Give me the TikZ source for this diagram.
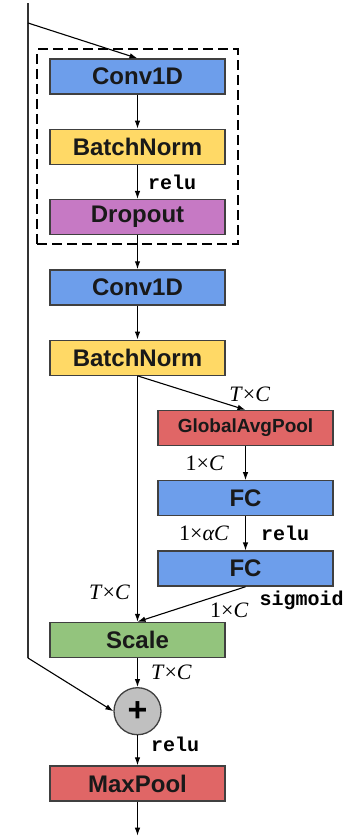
\documentclass[tikz,border=0pt]{standalone}
\usepackage{fontspec}
\setmainfont{Liberation Serif}
\setsansfont{Liberation Sans}
\setmonofont{Liberation Mono}
\usetikzlibrary{positioning,arrows.meta,fit}

\definecolor{convblue}{HTML}{6D9EEB}
\definecolor{bnyellow}{HTML}{FFD966}
\definecolor{dropmauve}{HTML}{C679C4}
\definecolor{poolred}{HTML}{E06666}
\definecolor{scalegreen}{HTML}{93C47D}
\definecolor{sumgray}{HTML}{C0C0C0}
\definecolor{edgegray}{HTML}{404040}

\begin{document}
\begin{tikzpicture}[>={Latex[length=8bp,width=5.5bp]},x=1bp,y=-1bp,node distance=34bp,line width=1.1bp]
\tikzstyle{blk}=[rectangle,draw=edgegray,line width=1.3bp,minimum width=175bp,minimum height=35bp,inner sep=0pt,text=black!90,font=\sffamily\bfseries\fontsize{24bp}{26bp}\selectfont]
\tikzstyle{dim}=[font=\rmfamily\fontsize{22bp}{24bp}\selectfont,inner sep=1bp]
\tikzstyle{act}=[font=\ttfamily\bfseries\fontsize{20bp}{22bp}\selectfont,inner sep=1bp]
\tikzstyle{sum}=[circle,draw=edgegray,line width=1.3bp,fill=sumgray,minimum size=47bp,inner sep=0pt,font=\sffamily\bfseries\fontsize{34bp}{34bp}\selectfont]

\useasboundingbox (0,0) rectangle (354,838);

% Main column
\node[blk,fill=convblue] (CV1) at (137.5,76.5) {Conv1D};
\node[blk,fill=bnyellow,below=of CV1] (BN1) {BatchNorm};
\node[blk,fill=dropmauve,below=of BN1] (DO) {Dropout};
\node[blk,fill=convblue,below=of DO] (CV2) {Conv1D};
\node[blk,fill=bnyellow,below=of CV2] (BN2) {BatchNorm};

% Squeeze-excitation branch
\node[blk,fill=poolred,below=34bp of BN2,xshift=108bp,font=\sffamily\bfseries\fontsize{19bp}{21bp}\selectfont] (GAP) {GlobalAvgPool};
\node[blk,fill=convblue,below=of GAP] (FC1) {FC};
\node[blk,fill=convblue,below=of FC1] (FC2) {FC};

% Merge and output
\node[blk,fill=scalegreen,below=35bp of FC2,xshift=-108bp] (SC) {Scale};
\node[sum,below=29bp of SC] (ADD) {+};
\node[blk,fill=poolred,below=30bp of ADD] (MP) {MaxPool};
\coordinate[below=34bp of MP] (OUT);

% Dropout group
\node[draw=black,fit=(CV1)(BN1)(DO),inner xsep=12bp,inner ysep=9bp,line width=2bp,dash pattern=on 10bp off 5bp] (DROPBLK) {};

% Residual bypass
\coordinate (IN) at (28,3);
\coordinate (TAP) at (28,23);
\coordinate (KNEE) at (28,658);
\draw[black!80] (IN) -- (KNEE);
\draw[->] (TAP) -- (CV1.north);
\draw[->] (KNEE) -- (ADD.west);

% Main flow
\draw[->] (CV1) -- (BN1);
\draw[->] (BN1) -- node[act,right=9bp]{relu} (DO);
\draw[->] (DO) -- (CV2);
\draw[->] (CV2) -- (BN2);
\draw[->] (BN2.south) -- node[dim,pos=0.88,left=6bp]{\textit{T}×\textit{C}} (SC.north);

% Branch flow
\draw[->] (BN2.south) -- node[dim,pos=0.8,above right,xshift=4bp]{\textit{T}×\textit{C}} (GAP.north);
\draw[->] (GAP) -- node[dim,left=20bp]{1×\textit{C}} (FC1);
\draw[->] (FC1) -- node[dim,left=15bp]{1×\textit{αC}} node[act,right=14bp]{relu} (FC2);
\draw[->] (FC2.south) -- node[dim,pos=0.15,below=9bp] (SGC) {1×\textit{C}} (SC.north);
\node[act,right=8bp of SGC,yshift=10bp] (SIG) {sigmoid};

\draw[->] (SC) -- node[dim,right=12bp]{\textit{T}×\textit{C}} (ADD);
\draw[->] (ADD) -- node[act,pos=0.3,right=12bp]{relu} (MP);
\draw[->] (MP) -- (OUT);
\end{tikzpicture}
\end{document}
